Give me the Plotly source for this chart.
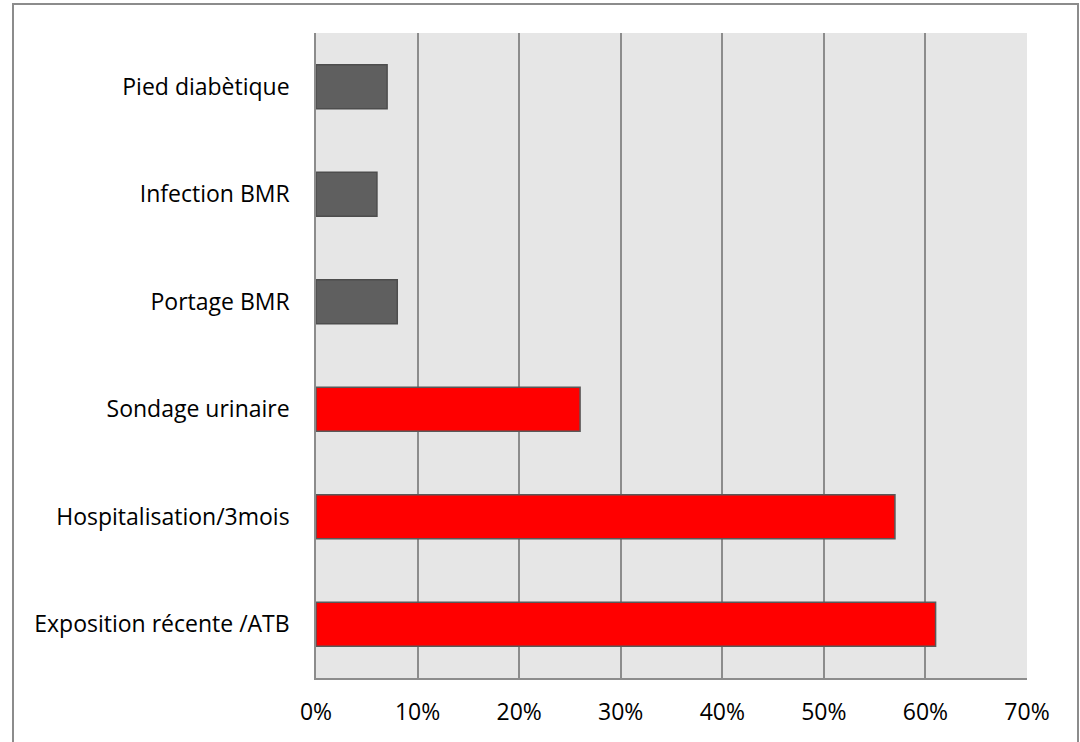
import plotly.graph_objects as go

categories = ["Pied diabètique", "Infection BMR", "Portage BMR",
              "Sondage urinaire", "Hospitalisation/3mois", "Exposition récente /ATB"]
values = [0.07, 0.06, 0.08, 0.26, 0.57, 0.61]
groups = ["autre", "autre", "autre", "majeur", "majeur", "majeur"]

fill_map = {"autre": "#5f5f5f", "majeur": "#ff0000"}
line_map = {"autre": "#4d4d4d", "majeur": "#595959"}

fig = go.Figure(go.Bar(
    x=values, y=categories, orientation="h",
    marker=dict(color=[fill_map[g] for g in groups],
                line=dict(color=[line_map[g] for g in groups], width=1.5)),
    width=0.41, hoverinfo="skip",
))

W, H = 1080, 742
L, R, T, B = 316, 53, 33, 64
pw, ph = W - L - R, H - T - B

def px(x):
    return (x - L) / pw

def py(y):
    return (H - B - y) / ph

fig.update_layout(
    width=W, height=H,
    margin=dict(l=L, r=R, t=T, b=B),
    paper_bgcolor="white", plot_bgcolor="#e6e6e6",
    font=dict(family="Open Sans", size=23, color="black"),
    showlegend=False,
    xaxis=dict(range=[0, 0.7], dtick=0.1, tickformat=".0%",
               showgrid=True, gridcolor="#8c8c8c", gridwidth=1.5,
               zeroline=False, showline=True, linecolor="#8c8c8c", linewidth=1.5,
               ticks="", ticklabelstandoff=13, fixedrange=True),
    yaxis=dict(autorange="reversed", showgrid=False, zeroline=False,
               showline=True, linecolor="#8c8c8c", linewidth=1.5,
               ticks="", ticklabelstandoff=20, fixedrange=True),
    shapes=[dict(type="rect", xref="paper", yref="paper",
                 x0=px(13), x1=px(1078), y0=py(760), y1=py(4),
                 line=dict(color="#8c8c8c", width=2), layer="above")],
)

fig.write_html("out.html")
